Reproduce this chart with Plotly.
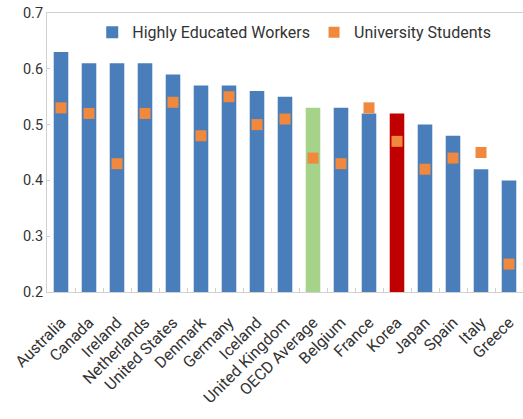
import plotly.graph_objects as go

countries = ["Australia", "Canada", "Ireland", "Netherlands", "United States", "Denmark",
             "Germany", "Iceland", "United Kingdom", "OECD Average", "Belgium", "France",
             "Korea", "Japan", "Spain", "Italy", "Greece"]
workers = [0.63, 0.61, 0.61, 0.61, 0.59, 0.57, 0.57, 0.56, 0.55, 0.53, 0.53, 0.52,
           0.52, 0.50, 0.48, 0.42, 0.40]
students = [0.53, 0.52, 0.43, 0.52, 0.54, 0.48, 0.55, 0.50, 0.51, 0.44, 0.43, 0.53,
            0.47, 0.42, 0.44, 0.45, 0.25]

blue = "#4A7EBB"
bar_colors = [blue] * len(countries)
bar_colors[countries.index("OECD Average")] = "#A6D38A"
bar_colors[countries.index("Korea")] = "#C00000"

fig = go.Figure()
fig.add_trace(go.Bar(
    x=countries, y=workers, name="Highly Educated Workers",
    marker=dict(color=bar_colors, line=dict(width=0)),
    width=0.52, legend="legend",
))
fig.add_trace(go.Scatter(
    x=countries, y=students, name="University Students", mode="markers",
    marker=dict(symbol="square", size=11, color="#F0883E"),
    legend="legend2",
))

legend_style = dict(
    orientation="h", y=0.992, xanchor="left", yanchor="top",
    bgcolor="rgba(0,0,0,0)", font=dict(size=16, color="#333333"),
)

fig.update_layout(
    width=523, height=419,
    margin=dict(l=47, r=0, t=13, b=127),
    plot_bgcolor="white", paper_bgcolor="white",
    font=dict(family="Roboto, Noto Sans, sans-serif", size=15, color="#333333"),
    showlegend=True,
    legend=dict(x=0.095, **legend_style),
    legend2=dict(x=0.561, **legend_style),
)
fig.update_xaxes(
    range=[-0.5, 16.5], tickangle=-45, tickfont=dict(size=16, color="#333333"),
    ticklabelstandoff=14,
    showline=True, linecolor="#D0D0D0", linewidth=1, mirror=True,
    ticks="inside", tickson="boundaries", ticklen=4, tickcolor="#D0D0D0",
    showgrid=False,
)
fig.update_yaxes(
    range=[0.2, 0.7], tickvals=[0.2, 0.3, 0.4, 0.5, 0.6, 0.7],
    ticktext=["0.2", "0.3", "0.4", "0.5", "0.6", "0.7"],
    tickfont=dict(size=14.5, color="#333333"), ticklabelstandoff=0,
    showline=True, linecolor="#D0D0D0", linewidth=1,
    ticks="inside", ticklen=3, tickcolor="#D0D0D0",
    showgrid=False, zeroline=False,
)

fig.write_html("out.html")
